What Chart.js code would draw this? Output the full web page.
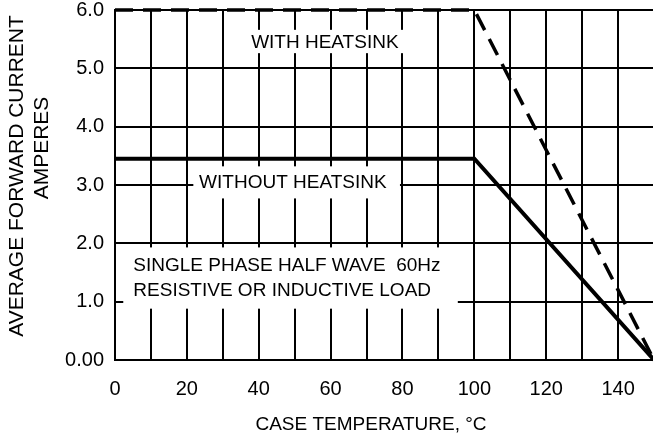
<!DOCTYPE html>
<html>
<head>
<meta charset="utf-8">
<script src="https://cdn.jsdelivr.net/npm/chart.js@4"></script>
<style>
  html, body { margin: 0; padding: 0; background: #fff; overflow: hidden; }
  #wrap { width: 655px; height: 443px; position: relative; }
</style>
</head>
<body>
<div id="wrap"><canvas id="deratingChart"></canvas></div>
<script>
// Derating curve data (case temperature in °C, current in A)
const caseTemps = [0, 100, 150];
const withHeatsink = [6.0, 6.0, 0];
const withoutHeatsink = [3.45, 3.45, 0];
const xTickLabels = [0, 20, 40, 60, 80, 100, 120, 140];
const yTickLabels = ['0.00', '1.0', '2.0', '3.0', '4.0', '5.0', '6.0'];

const FONT = 'Liberation Sans, Arial, sans-serif';

// white label boxes sitting over the grid, plus the axis titles
const notesPlugin = {
    id: 'notes',
    beforeDatasetsDraw(chart) {
        const ctx = chart.ctx;
        const x = chart.scales.x, y = chart.scales.y;
        const box = (x0, x1, y0, y1) => {
            ctx.fillStyle = '#fff';
            ctx.fillRect(x.getPixelForValue(x0), y.getPixelForValue(y1),
                x.getPixelForValue(x1) - x.getPixelForValue(x0),
                y.getPixelForValue(y0) - y.getPixelForValue(y1));
        };
        ctx.save();
        box(31.5, 84.8, 5.26, 5.66);
        box(21.8, 79.3, 2.77, 3.32);
        box(2.3, 95.4, 0.88, 1.93);

        ctx.fillStyle = '#000';
        ctx.font = '19px ' + FONT;
        ctx.textBaseline = 'middle';
        ctx.textAlign = 'center';
        ctx.fillText('WITH HEATSINK', x.getPixelForValue(58.4), y.getPixelForValue(5.43));
        ctx.fillText('WITHOUT HEATSINK', x.getPixelForValue(49.5), y.getPixelForValue(3.03));
        ctx.textAlign = 'left';
        ctx.fillText('SINGLE PHASE HALF WAVE  60Hz', x.getPixelForValue(5.1), y.getPixelForValue(1.62));
        ctx.fillText('RESISTIVE OR INDUCTIVE LOAD', x.getPixelForValue(5.1), y.getPixelForValue(1.19));
        ctx.restore();
    },
    afterDraw(chart) {
        const ctx = chart.ctx;
        ctx.save();
        ctx.fillStyle = '#000';
        ctx.font = '19px ' + FONT;
        ctx.textAlign = 'center';
        ctx.textBaseline = 'middle';
        ctx.fillText('CASE TEMPERATURE, °C', 371, 425);
        ctx.font = '21px ' + FONT;
        ctx.translate(17, 176);
        ctx.rotate(-Math.PI / 2);
        ctx.fillText('AVERAGE FORWARD CURRENT', 0, 0);
        ctx.fillText('AMPERES', 28, 25);
        ctx.restore();
    }
};

const ctx = document.getElementById('deratingChart').getContext('2d');

const deratingChart = new Chart(ctx, {
    type: 'line',
    data: {
        datasets: [{
            label: 'With heatsink',
            data: caseTemps.map((t, i) => ({ x: t, y: withHeatsink[i] })),
            borderColor: '#000',
            borderWidth: 3.5,
            borderDash: [18, 10],
            pointRadius: 0,
            tension: 0,
            clip: false
        }, {
            label: 'Without heatsink',
            data: caseTemps.map((t, i) => ({ x: t, y: withoutHeatsink[i] })),
            borderColor: '#000',
            borderWidth: 4,
            pointRadius: 0,
            tension: 0,
            clip: false
        }]
    },
    options: {
        responsive: true,
        maintainAspectRatio: false,
        animation: false,
        layout: { padding: { left: 0, right: 1, top: 10, bottom: 0 } },
        plugins: {
            legend: { display: false },
            tooltip: { enabled: false }
        },
        scales: {
            x: {
                type: 'linear',
                min: 0,
                max: 150,
                afterFit(scale) {
                    scale.height = 83;
                    scale.paddingLeft = 0;
                    scale.paddingRight = 0;
                },
                grid: { color: '#000', lineWidth: 2, drawTicks: false },
                border: { color: '#000', width: 2 },
                ticks: {
                    stepSize: 10,
                    padding: 17,
                    color: '#000',
                    font: { family: FONT, size: 20 },
                    maxRotation: 0,
                    autoSkip: false,
                    callback: v => xTickLabels.includes(v) ? String(v) : ''
                }
            },
            y: {
                min: 0,
                max: 6,
                afterFit(scale) {
                    scale.width = 115;
                    scale.paddingTop = 0;
                    scale.paddingBottom = 0;
                },
                grid: { color: '#000', lineWidth: 2, drawTicks: false },
                border: { color: '#000', width: 2 },
                ticks: {
                    stepSize: 1,
                    padding: 11,
                    color: '#000',
                    font: { family: FONT, size: 20 },
                    callback: v => yTickLabels[v]
                }
            }
        }
    },
    plugins: [notesPlugin]
});
</script>
</body>
</html>
